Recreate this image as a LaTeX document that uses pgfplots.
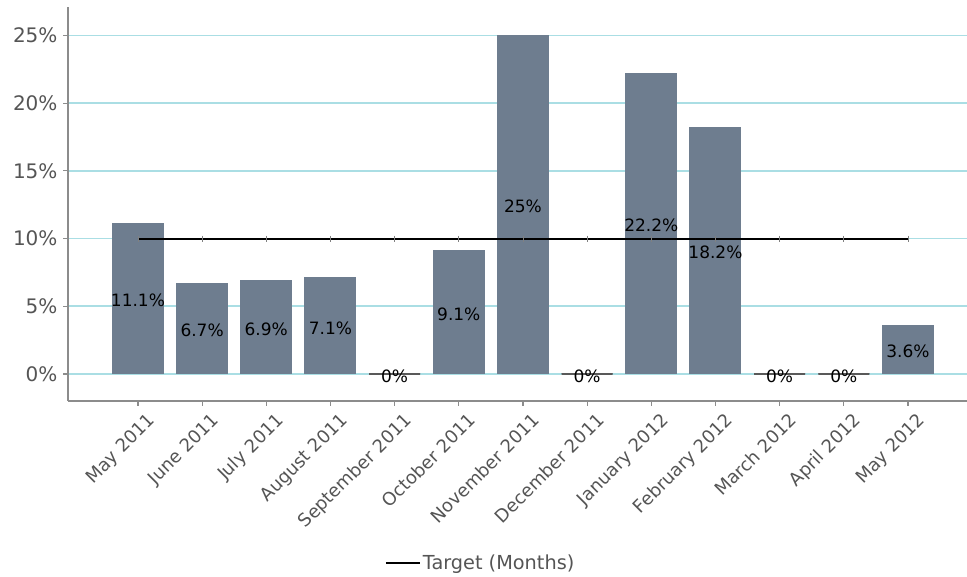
\documentclass[border=0pt]{standalone}
\usepackage{fontspec}
\setmainfont{DejaVu Sans}
\usepackage{pgfplots}
\pgfplotsset{compat=1.18}
\usepackage{pgfplotstable}

\definecolor{barcolor}{RGB}{110,125,143}
\definecolor{gridcyan}{RGB}{170,222,228}
\definecolor{axisgray}{RGB}{140,140,140}
\definecolor{labelgray}{RGB}{85,85,85}

\pgfplotstableread{
x v
0 11.1
1 6.7
2 6.9
3 7.1
4 0
5 9.1
6 25
7 0
8 22.2
9 18.2
10 0
11 0
12 3.6
}\bardata

% months with no value: drawn as a flat dark bar
\pgfplotstableread{
x v
4 0
7 0
10 0
11 0
}\zerodata

\begin{document}
\begin{tikzpicture}
\useasboundingbox (-68pt,-176pt) rectangle (899pt,401pt);
\begin{axis}[
    at={(0,0)}, anchor=south west,
    scale only axis,
    width=899pt, height=394pt,
    xmin=-1.09, xmax=12.92,
    ymin=-2, ymax=27.1,
    axis x line*=bottom, axis y line*=left,
    axis line style={draw=axisgray, line width=1.5pt, -},
    tick align=outside,
    major tick length=5pt,
    tick style={axisgray, line width=1.2pt},
    ytick={0,5,10,15,20,25},
    yticklabel={\pgfmathprintnumber{\tick}\%},
    yticklabel style={font=\fontsize{20}{24}\selectfont, text=labelgray, xshift=-2pt},
    xtick={0,...,12},
    xticklabels={May 2011,June 2011,July 2011,August 2011,September 2011,October 2011,November 2011,December 2011,January 2012,February 2012,March 2012,April 2012,May 2012},
    xticklabel style={font=\fontsize{18}{22}\selectfont, text=labelgray, rotate=45, anchor=north east, inner sep=2pt, xshift=4pt, yshift=-8pt},
    ymajorgrids,
    grid style={gridcyan, line width=1.5pt},
    /pgf/number format/assume math mode=true,
    legend style={at={(0.459,-0.411)}, anchor=center, draw=none, fill=none,
        font=\fontsize{19.3}{23}\selectfont, text=labelgray},
    legend cell align=left,
]
\addplot[ybar, bar width=51pt, fill=barcolor, draw=barcolor, line width=1pt, forget plot]
    table[x=x, y=v] \bardata;
\addplot[ybar, bar width=51pt, draw=black!65, line width=1.5pt, forget plot]
    table[x=x, y=v] \zerodata;

\addplot[black, line width=2pt, mark=|, mark size=3pt,
    mark options={draw=gray, line width=0.8pt},
    legend image code/.code={\draw[black, line width=2pt] (0pt,0pt) -- (34pt,0pt);}]
    coordinates {(0,10) (1,10) (2,10) (3,10) (4,10) (5,10) (6,10) (7,10) (8,10) (9,10) (10,10) (11,10) (12,10)};
\addlegendentry{Target (Months)}

\addplot[draw=none, mark=none, forget plot,
    point meta=\thisrow{v},
    nodes near coords={\pgfmathprintnumber{\pgfplotspointmeta}\%},
    every node near coord/.append style={anchor=center, font=\fontsize{17}{20}\selectfont, text=black, inner sep=0pt, yshift=-2pt}]
    table[x=x, y expr=\thisrow{v}/2] \bardata;
\end{axis}
\end{tikzpicture}
\end{document}
